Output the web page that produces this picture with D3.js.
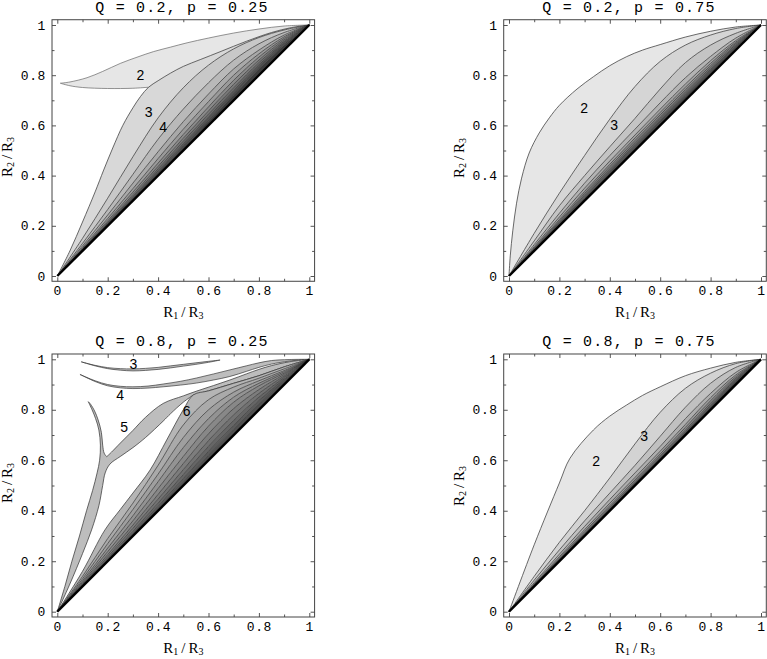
<!DOCTYPE html>
<html><head><meta charset="utf-8">
<script src="https://cdn.jsdelivr.net/npm/d3@7"></script>
<style>body{margin:0;background:#fff} svg{display:block}</style>
</head><body><svg id="c" width="767" height="659"></svg>
<script>
// ---------- data ----------
const xGrid = [0,0.1,0.2,0.3,0.4,0.5,0.6,0.7,0.8,0.9,1];
const tickValues = [0,0.2,0.4,0.6,0.8,1];
const tickLabels = ["0","0.2","0.4","0.6","0.8","1"];
const minorTickValues = [0.1,0.3,0.5,0.7,0.9];
const titles = ["Q = 0.2, p = 0.25","Q = 0.2, p = 0.75","Q = 0.8, p = 0.25","Q = 0.8, p = 0.75"];

// Panel 1 (Q=0.2, p=0.25)
const p1Upper = [[0.012,0.768],[0.05,0.773],[0.118,0.79],[0.18,0.815],[0.25,0.847],[0.32,0.873],[0.382,0.894],[0.45,0.912],[0.515,0.929],[0.6,0.948],[0.7,0.968],[0.8,0.984],[0.9,0.996],[1,1]];
const p1Lower = [[0.012,0.768],[0.05,0.758],[0.1,0.751],[0.2,0.747],[0.3,0.748],[0.362,0.752]];
const p1Front = [[0,0],[0.05,0.1],[0.1,0.215],[0.15,0.335],[0.184,0.422],[0.22,0.51],[0.26,0.6],[0.3,0.67],[0.33,0.715],[0.362,0.752],[0.4,0.778],[0.449,0.808],[0.5,0.835],[0.567,0.862],[0.65,0.895],[0.75,0.935],[0.85,0.97],[0.93,0.99],[1,1]];
const p1Curves = [
 [0,0.15,0.31,0.475,0.63,0.75,0.84,0.905,0.95,0.98,1],
 [0,0.13,0.265,0.405,0.545,0.665,0.77,0.86,0.925,0.97,1],
 [0,0.12,0.243,0.37,0.495,0.615,0.725,0.825,0.9,0.96,1],
 [0,0.113,0.229,0.348,0.468,0.585,0.695,0.8,0.885,0.953,1],
 [0,0.109,0.22,0.334,0.45,0.564,0.674,0.78,0.872,0.947,1],
 [0,0.106,0.214,0.324,0.437,0.549,0.658,0.764,0.86,0.941,1],
 [0,0.104,0.21,0.317,0.427,0.537,0.645,0.75,0.85,0.935,1],
 [0,0.103,0.207,0.312,0.419,0.527,0.634,0.739,0.841,0.93,1],
 [0,0.102,0.204,0.308,0.413,0.519,0.625,0.73,0.833,0.925,1],
 [0,0.101,0.202,0.304,0.407,0.511,0.616,0.72,0.824,0.919,1]
];
const p1Labels = [["2",0.33,0.80],["3",0.362,0.654],["4",0.42,0.595]];

// Panel 2 (Q=0.2, p=0.75)
const p2Upper = [[0,0],[0.005,0.08],[0.015,0.18],[0.03,0.29],[0.05,0.39],[0.08,0.49],[0.12,0.57],[0.16,0.63],[0.2,0.68],[0.27,0.745],[0.335,0.794],[0.4,0.838],[0.467,0.874],[0.53,0.9],[0.6,0.922],[0.7,0.952],[0.8,0.975],[0.9,0.992],[1,1]];
const p2Curves = [
 [0,0.17,0.33,0.48,0.625,0.755,0.855,0.92,0.96,0.986,1],
 [0,0.14,0.28,0.4,0.515,0.628,0.745,0.85,0.92,0.967,1],
 [0,0.125,0.25,0.37,0.48,0.585,0.69,0.79,0.875,0.948,1],
 [0,0.117,0.235,0.35,0.458,0.562,0.665,0.765,0.858,0.938,1],
 [0,0.112,0.225,0.337,0.445,0.55,0.652,0.752,0.847,0.932,1],
 [0,0.109,0.219,0.329,0.436,0.54,0.642,0.742,0.838,0.927,1],
 [0,0.106,0.214,0.322,0.427,0.531,0.633,0.733,0.83,0.922,1],
 [0,0.104,0.21,0.315,0.42,0.523,0.625,0.725,0.823,0.917,1],
 [0,0.102,0.206,0.309,0.413,0.516,0.618,0.718,0.817,0.913,1],
 [0,0.101,0.203,0.305,0.407,0.509,0.611,0.713,0.812,0.909,1]
];
const p2Labels = [["2",0.298,0.668],["3",0.417,0.60]];

// Panel 3 (Q=0.8, p=0.25)
const p3Band3Top = [[0.095,0.99],[0.15,0.976],[0.2,0.967],[0.25,0.963],[0.3,0.962],[0.35,0.964],[0.4,0.968],[0.45,0.974],[0.5,0.98],[0.55,0.986],[0.6,0.992],[0.646,0.997]];
const p3Band3Bottom = [[0.095,0.99],[0.15,0.974],[0.2,0.963],[0.25,0.957],[0.3,0.954],[0.35,0.956],[0.4,0.96],[0.45,0.966],[0.5,0.973],[0.55,0.98],[0.6,0.988],[0.646,0.997]];
const p3Band4Top = [[0.09,0.94],[0.15,0.915],[0.2,0.9],[0.25,0.893],[0.3,0.891],[0.36,0.894],[0.42,0.902],[0.49,0.913],[0.553,0.926],[0.62,0.942],[0.685,0.958],[0.75,0.974],[0.8,0.986],[0.85,0.995],[0.92,0.999],[1,1]];
const p3Band4Bottom = [[0.09,0.94],[0.15,0.912],[0.2,0.895],[0.25,0.887],[0.3,0.884],[0.36,0.886],[0.42,0.891],[0.49,0.898],[0.553,0.906],[0.62,0.918],[0.685,0.932],[0.75,0.952],[0.8,0.968],[0.85,0.981],[0.92,0.993],[1,1]];
const p3Band5Outer = [[0,0],[0.03,0.1],[0.058,0.2],[0.088,0.3],[0.116,0.4],[0.14,0.48],[0.158,0.55],[0.168,0.6],[0.171,0.66],[0.165,0.72],[0.152,0.765],[0.138,0.8],[0.123,0.832]];
const p3Band5Spike = [[0.123,0.832],[0.132,0.822],[0.148,0.795],[0.162,0.76],[0.175,0.71],[0.18,0.66],[0.186,0.628],[0.196,0.614]];
const p3Band5Arm = [[0.196,0.614],[0.215,0.632],[0.25,0.668],[0.3,0.718],[0.35,0.77],[0.42,0.825],[0.5,0.855],[0.553,0.874],[0.62,0.896],[0.685,0.918],[0.75,0.942],[0.8,0.96],[0.85,0.975],[0.92,0.99],[1,1]];
const p3Band5Inner = [[0.54,0.859],[0.5,0.83],[0.45,0.785],[0.42,0.755],[0.35,0.69],[0.3,0.65],[0.25,0.615],[0.209,0.585],[0.19,0.55],[0.18,0.5],[0.165,0.42],[0.136,0.324],[0.1,0.23],[0.05,0.11],[0,0]];
const p3Front = [[0,0],[0.1,0.16],[0.189,0.324],[0.25,0.405],[0.3,0.47],[0.368,0.561],[0.434,0.68],[0.5,0.8],[0.54,0.859],[0.6,0.875],[0.7,0.905],[0.8,0.935],[0.9,0.97],[1,1]];
const p3Curves = [
 [0,0.14,0.29,0.43,0.58,0.74,0.84,0.89,0.925,0.962,1],
 [0,0.13,0.27,0.405,0.545,0.69,0.8,0.87,0.915,0.955,1],
 [0,0.122,0.252,0.38,0.515,0.65,0.765,0.85,0.905,0.95,1],
 [0,0.116,0.238,0.36,0.488,0.615,0.735,0.83,0.895,0.945,1],
 [0,0.111,0.226,0.343,0.465,0.587,0.705,0.805,0.88,0.94,1],
 [0,0.107,0.217,0.33,0.446,0.563,0.678,0.78,0.865,0.934,1],
 [0,0.104,0.21,0.318,0.43,0.543,0.655,0.758,0.85,0.928,1],
 [0,0.102,0.205,0.31,0.417,0.527,0.635,0.738,0.836,0.922,1],
 [0,0.101,0.202,0.304,0.408,0.514,0.619,0.722,0.822,0.916,1]
];
const p3Labels = [["3",0.302,0.981],["4",0.249,0.859],["5",0.265,0.733],["6",0.513,0.797]];

// Panel 4 (Q=0.8, p=0.75)
const p4Upper = [[0,0],[0.1,0.265],[0.2,0.51],[0.242,0.608],[0.335,0.72],[0.4,0.775],[0.467,0.819],[0.53,0.857],[0.6,0.891],[0.7,0.935],[0.8,0.965],[0.9,0.988],[1,1]];
const p4Curves = [
 [0,0.14,0.275,0.4,0.53,0.665,0.79,0.885,0.945,0.983,1],
 [0,0.125,0.245,0.36,0.47,0.58,0.695,0.81,0.905,0.968,1],
 [0,0.115,0.228,0.338,0.445,0.55,0.655,0.765,0.865,0.948,1],
 [0,0.11,0.218,0.325,0.43,0.532,0.636,0.742,0.848,0.938,1],
 [0,0.107,0.212,0.317,0.42,0.522,0.625,0.73,0.836,0.931,1],
 [0,0.105,0.208,0.311,0.413,0.515,0.617,0.72,0.826,0.925,1],
 [0,0.103,0.205,0.307,0.408,0.51,0.611,0.713,0.818,0.92,1],
 [0,0.102,0.203,0.304,0.405,0.506,0.607,0.708,0.812,0.915,1],
 [0,0.101,0.201,0.302,0.402,0.503,0.604,0.705,0.807,0.911,1]
];
const p4Labels = [["2",0.346,0.597],["3",0.536,0.696]];

const diagonal = [[0,0],[1,1]];

// ---------- drawing ----------
const svg = d3.select("#c");
const layout = [
  {x:[57.3,309.3], y:[276,25],      titleX:182, titleY:12,  ylabY:157},
  {x:[509,761],    y:[276,25],      titleX:629, titleY:12,  ylabY:158},
  {x:[57.3,309.3], y:[611.7,359.3], titleX:182, titleY:346, ylabY:483},
  {x:[509,761],    y:[611.7,359.3], titleX:629, titleY:346, ylabY:486}
];
const LINE = "#3a3a3a";
const toPts = ys => ys.map((v,i)=>[xGrid[i], v]);
const rev = a => a.slice().reverse();

function makePanel(i){
  const L = layout[i];
  const x = d3.scaleLinear().domain([0,1]).range(L.x);
  const y = d3.scaleLinear().domain([0,1]).range(L.y);
  const pad = 0.021;
  const fr = {l:x(-pad), r:x(1+pad), t:y(1+pad), b:y(-pad)};
  const g = svg.append("g");
  const ln = d3.line().x(d=>x(d[0])).y(d=>y(d[1])).curve(d3.curveCatmullRom.alpha(0.5));
  const ring = edges => edges.map((e,k)=>{const s=ln(e); return k===0 ? s : "L"+s.slice(1);}).join("")+"Z";
  const clipId = "clip"+i;
  svg.append("clipPath").attr("id",clipId).append("rect")
     .attr("x",fr.l).attr("y",fr.t).attr("width",fr.r-fr.l).attr("height",fr.b-fr.t);
  const plot = g.append("g").attr("clip-path",`url(#${clipId})`);
  return {x,y,fr,g,plot,ln,ring};
}

function fan(P, boundaries, colorRange){
  const n = boundaries.length - 1;
  const col = d3.scaleLinear().domain([0, n-1]).range(colorRange);
  for (let k=0;k<n;k++){
    P.plot.append("path").attr("d", P.ring([boundaries[k], rev(boundaries[k+1])]))
      .attr("fill", col(k)).attr("stroke","none");
  }
  boundaries.slice(0,n).forEach(b=>{
    P.plot.append("path").attr("d", P.ln(b)).attr("fill","none")
      .attr("stroke",LINE).attr("stroke-width",0.75);
  });
}

function finish(P, i, labels){
  P.plot.append("path").attr("d", P.ln(diagonal)).attr("stroke","#000").attr("stroke-width",2.4).attr("fill","none");
  P.g.selectAll("text.rl").data(labels).join("text").attr("class","rl")
    .attr("x",d=>P.x(d[1])).attr("y",d=>P.y(d[2]))
    .attr("text-anchor","middle").attr("dominant-baseline","central")
    .attr("font-family","'Liberation Sans', Arial, sans-serif").attr("font-size",14)
    .attr("fill","#000").text(d=>d[0]);
  const fr = P.fr;
  const fmt = d => tickLabels[tickValues.indexOf(d)];
  const axisStyle = sel => { sel.select(".domain").remove(); sel.selectAll("line").attr("stroke","#555");
    sel.attr("font-family","'Liberation Mono','Courier New',monospace").attr("font-size",13);
    sel.selectAll("text").attr("fill","#000").attr("letter-spacing",0.6); };
  const yr = d3.scaleLinear().domain([0,1]).range(layout[i].y);
  const xr = d3.scaleLinear().domain([0,1]).range(layout[i].x);
  P.g.append("g").attr("transform",`translate(0,${fr.b})`)
    .call(d3.axisBottom(xr).tickValues(tickValues).tickFormat(fmt).tickSizeInner(-4).tickSizeOuter(0).tickPadding(4.5)).call(axisStyle);
  P.g.append("g").attr("transform",`translate(0,${fr.b})`)
    .call(d3.axisBottom(xr).tickValues(minorTickValues).tickFormat("").tickSizeInner(-2.5).tickSizeOuter(0)).call(axisStyle);
  P.g.append("g").attr("transform",`translate(${fr.l},0)`)
    .call(d3.axisLeft(yr).tickValues(tickValues).tickFormat(fmt).tickSizeInner(-4).tickSizeOuter(0).tickPadding(6)).call(axisStyle);
  P.g.append("g").attr("transform",`translate(${fr.l},0)`)
    .call(d3.axisLeft(yr).tickValues(minorTickValues).tickFormat("").tickSizeInner(-2.5).tickSizeOuter(0)).call(axisStyle);
  P.g.append("g").attr("transform",`translate(0,${fr.t})`)
    .call(d3.axisTop(xr).tickValues(tickValues).tickFormat("").tickSizeInner(-4).tickSizeOuter(0)).call(axisStyle);
  P.g.append("g").attr("transform",`translate(0,${fr.t})`)
    .call(d3.axisTop(xr).tickValues(minorTickValues).tickFormat("").tickSizeInner(-2.5).tickSizeOuter(0)).call(axisStyle);
  P.g.append("g").attr("transform",`translate(${fr.r},0)`)
    .call(d3.axisRight(yr).tickValues(tickValues).tickFormat("").tickSizeInner(-4).tickSizeOuter(0)).call(axisStyle);
  P.g.append("g").attr("transform",`translate(${fr.r},0)`)
    .call(d3.axisRight(yr).tickValues(minorTickValues).tickFormat("").tickSizeInner(-2.5).tickSizeOuter(0)).call(axisStyle);
  P.g.append("rect").attr("x",fr.l).attr("y",fr.t).attr("width",fr.r-fr.l).attr("height",fr.b-fr.t)
    .attr("fill","none").attr("stroke","#444").attr("stroke-width",1);
  P.g.append("text").attr("x",layout[i].titleX).attr("y",layout[i].titleY).attr("text-anchor","middle")
    .attr("font-family","'Liberation Mono','Courier New',monospace").attr("font-size",15)
    .attr("letter-spacing",1.2).attr("fill","#000").text(titles[i]);
  const cx = (fr.l+fr.r)/2;
  const serif = "'Liberation Serif','Times New Roman',serif";
  function ratioLabel(t, a, b){
    t.attr("font-family",serif).attr("font-size",15).attr("fill","#000");
    t.append("tspan").text("R");
    t.append("tspan").attr("font-size",10).attr("dy",2).text(a);
    t.append("tspan").attr("dy",-2).attr("dx",3).text("/");
    t.append("tspan").attr("dx",3).text("R");
    t.append("tspan").attr("font-size",10).attr("dy",2).text(b);
  }
  const xl = P.g.append("text").attr("x",cx).attr("y",fr.b+36).attr("text-anchor","middle");
  ratioLabel(xl,"1","3");
  const yl = P.g.append("text").attr("text-anchor","middle")
    .attr("transform",`translate(${fr.l-40},${layout[i].ylabY}) rotate(-90)`);
  ratioLabel(yl,"2","3");
}

// Panel 1
{
  const P = makePanel(0);
  P.plot.append("path").attr("d", P.ring([p1Upper, rev(p1Front.filter(d=>d[0]>=0.362)), rev(p1Lower)]))
    .attr("fill","#e6e6e6").attr("stroke","none");
  [p1Upper,p1Lower].forEach(b=>P.plot.append("path").attr("d",P.ln(b)).attr("fill","none").attr("stroke","#666").attr("stroke-width",0.7));
  fan(P, [p1Front, ...p1Curves.map(toPts), diagonal], ["#d8d8d8","#3c3c3c"]);
  finish(P, 0, p1Labels);
}
// Panel 2
{
  const P = makePanel(1);
  fan(P, [p2Upper, ...p2Curves.map(toPts), diagonal], ["#e6e6e6","#3c3c3c"]);
  finish(P, 1, p2Labels);
}
// Panel 3
{
  const P = makePanel(2);
  const bandFill = "#bdbdbd";
  P.plot.append("path").attr("d", P.ring([p3Band3Top, rev(p3Band3Bottom)])).attr("fill",bandFill).attr("stroke",LINE).attr("stroke-width",0.7);
  P.plot.append("path").attr("d", P.ring([p3Band4Top, rev(p3Band4Bottom)])).attr("fill",bandFill).attr("stroke",LINE).attr("stroke-width",0.7);
  P.plot.append("path").attr("d", P.ring([p3Band5Outer, p3Band5Spike, p3Band5Arm, rev(p3Front.filter(d=>d[0]>=0.54)), p3Band5Inner]))
    .attr("fill",bandFill).attr("stroke",LINE).attr("stroke-width",0.75);
  fan(P, [p3Front, ...p3Curves.map(toPts), diagonal], ["#b5b5b5","#505050"]);
  finish(P, 2, p3Labels);
}
// Panel 4
{
  const P = makePanel(3);
  fan(P, [p4Upper, ...p4Curves.map(toPts), diagonal], ["#e6e6e6","#3c3c3c"]);
  finish(P, 3, p4Labels);
}
</script></body></html>
